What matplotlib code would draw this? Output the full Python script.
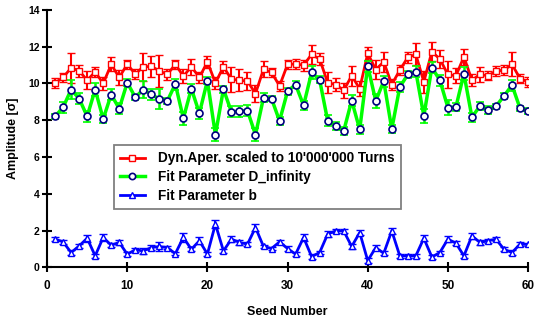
import matplotlib
matplotlib.use("Agg")
import matplotlib.pyplot as plt
from matplotlib.lines import Line2D
import numpy as np

plt.rcParams["font.family"] = ["Liberation Sans", "DejaVu Sans"]
plt.rcParams["font.weight"] = "bold"

# 資料
seeds = np.arange(1, 61)

dyn_aper = [10.03, 10.33, 10.85, 10.69, 10.18, 10.63, 10.00, 11.04, 10.33, 11.05,
            10.51, 10.91, 10.93, 10.69, 10.49, 11.04, 10.40, 10.91, 10.33, 11.18,
            10.03, 10.91, 10.23, 10.18, 10.13, 9.45, 10.78, 10.60, 9.87, 11.04,
            11.06, 11.00, 11.58, 11.33, 10.05, 9.94, 9.63, 10.42, 9.72, 11.64,
            10.76, 11.18, 9.94, 10.73, 11.42, 11.58, 10.09, 11.73, 11.33, 10.49,
            10.42, 11.45, 10.18, 10.49, 10.42, 10.67, 10.73, 11.04, 10.27, 10.09]
dyn_aper_err = [0.25, 0.25, 0.80, 0.33, 0.50, 0.25, 0.36, 0.38, 0.40, 0.25,
                0.27, 0.77, 0.55, 0.86, 0.30, 0.23, 0.40, 0.43, 0.32, 0.33,
                0.32, 0.33, 0.68, 0.60, 0.50, 0.45, 0.43, 0.25, 0.27, 0.23,
                0.25, 0.30, 0.50, 0.32, 0.57, 0.34, 0.40, 0.53, 0.40, 0.36,
                0.50, 0.55, 0.32, 0.27, 0.32, 0.60, 0.60, 0.53, 0.50, 0.73,
                0.40, 0.44, 0.32, 0.43, 0.25, 0.27, 0.25, 0.65, 0.27, 0.27]

d_inf = [8.21, 8.70, 9.67, 9.18, 8.21, 9.67, 8.07, 9.40, 8.63, 10.05,
         9.25, 9.67, 9.42, 9.14, 9.05, 9.97, 8.10, 9.72, 8.38, 10.16,
         7.21, 9.69, 8.45, 8.49, 8.52, 7.21, 9.23, 9.18, 7.96, 9.58,
         9.94, 8.81, 10.60, 10.20, 7.98, 7.68, 7.41, 9.07, 7.50, 10.95,
         9.05, 10.13, 7.52, 9.81, 10.49, 10.65, 8.23, 10.87, 10.18, 8.69,
         8.72, 10.53, 8.16, 8.78, 8.56, 8.76, 9.32, 9.91, 8.65, 8.50]
d_inf_err = [0.13, 0.30, 0.50, 0.30, 0.30, 0.35, 0.20, 0.30, 0.30, 0.20,
             0.15, 0.45, 0.30, 0.55, 0.15, 0.30, 0.35, 0.25, 0.30, 0.20,
             0.35, 0.20, 0.30, 0.30, 0.30, 0.35, 0.25, 0.15, 0.20, 0.20,
             0.20, 0.25, 0.35, 0.20, 0.30, 0.20, 0.20, 0.30, 0.25, 0.30,
             0.40, 0.30, 0.20, 0.25, 0.20, 0.30, 0.40, 0.30, 0.30, 0.40,
             0.20, 0.35, 0.25, 0.20, 0.20, 0.15, 0.15, 0.30, 0.15, 0.15]

fit_b = [1.53, 1.38, 0.80, 1.16, 1.58, 0.62, 1.62, 1.20, 1.35, 0.71,
         0.95, 0.89, 1.07, 1.13, 1.07, 0.74, 1.62, 0.98, 1.44, 0.72,
         2.35, 0.89, 1.53, 1.35, 1.26, 2.16, 1.13, 1.02, 1.38, 1.02,
         0.71, 1.62, 0.58, 0.80, 1.80, 1.98, 1.98, 1.13, 1.89, 0.36,
         1.07, 0.76, 1.98, 0.62, 0.62, 0.62, 1.58, 0.56, 0.80, 1.53,
         1.31, 0.62, 1.71, 1.35, 1.44, 1.53, 0.98, 0.80, 1.26, 1.24]
fit_b_err = [0.10, 0.12, 0.15, 0.12, 0.20, 0.12, 0.20, 0.12, 0.15, 0.10,
             0.10, 0.15, 0.12, 0.25, 0.10, 0.10, 0.25, 0.12, 0.20, 0.10,
             0.23, 0.12, 0.15, 0.12, 0.12, 0.20, 0.10, 0.10, 0.12, 0.12,
             0.10, 0.20, 0.12, 0.10, 0.15, 0.12, 0.12, 0.12, 0.12, 0.12,
             0.15, 0.10, 0.15, 0.10, 0.10, 0.10, 0.15, 0.12, 0.10, 0.15,
             0.12, 0.10, 0.15, 0.12, 0.10, 0.10, 0.12, 0.15, 0.10, 0.10]

labels = ["Dyn.Aper. scaled to 10'000'000 Turns", "Fit Parameter D_infinity", "Fit Parameter b"]

fig = plt.figure(figsize=(5.35, 3.22), dpi=100)
ax = fig.add_axes([0.088, 0.170, 0.899, 0.799])

styles = [
    dict(color="#FF0000", marker="s", mec="#FF0000", lw=2, elw=1.5, mew=1.0),
    dict(color="#00FF00", marker="o", mec="#000080", lw=2.5, elw=1.8, mew=1.2),
    dict(color="#0000FF", marker="^", mec="#0000FF", lw=2, elw=1.5, mew=1.0),
]
series = [(dyn_aper, dyn_aper_err), (d_inf, d_inf_err), (fit_b, fit_b_err)]

handles = []
for i, ((vals, errs), st) in enumerate(zip(series, styles)):
    ax.errorbar(seeds, vals, yerr=errs, color=st["color"], linewidth=st["lw"],
                elinewidth=st["elw"], capsize=3, capthick=st["elw"], marker=st["marker"],
                markersize=5, markerfacecolor="white", markeredgecolor=st["mec"],
                markeredgewidth=st["mew"], zorder=3 + i)
    handles.append(Line2D([], [], color=st["color"], linewidth=st["lw"], marker=st["marker"],
                          markersize=4.5, markerfacecolor="white", markeredgecolor=st["mec"],
                          markeredgewidth=st["mew"]))

ax.set_xlim(0, 60)
ax.set_ylim(0, 14)
ax.set_xticks(range(0, 61, 10))
ax.set_yticks(range(0, 15, 2))
ax.tick_params(axis="y", direction="inout", length=6.5, width=1.5, labelsize=7.5, pad=2)
ax.tick_params(axis="x", direction="inout", length=7, width=1.5, labelsize=8.5, pad=6)
for t in ax.get_xticklabels() + ax.get_yticklabels():
    t.set_fontweight("bold")

for spine in ["top", "right"]:
    ax.spines[spine].set_visible(False)
for spine in ["left", "bottom"]:
    ax.spines[spine].set_linewidth(1.5)

ax.set_xlabel("Seed Number", fontsize=9, fontweight="bold", labelpad=10)
ax.set_ylabel("Amplitude [σ]", fontsize=9, fontweight="bold", labelpad=7)

leg = ax.legend(handles, labels, loc="upper left", bbox_to_anchor=(0.139, 0.474),
                borderaxespad=0, fancybox=False, edgecolor="#808080", framealpha=1,
                prop={"size": 9.8, "weight": "bold"}, handlelength=1.8,
                labelspacing=0.35, borderpad=0.45, handletextpad=1.0)
leg.get_frame().set_linewidth(1.3)

plt.savefig("out.png", dpi=100)
plt.close(fig)
